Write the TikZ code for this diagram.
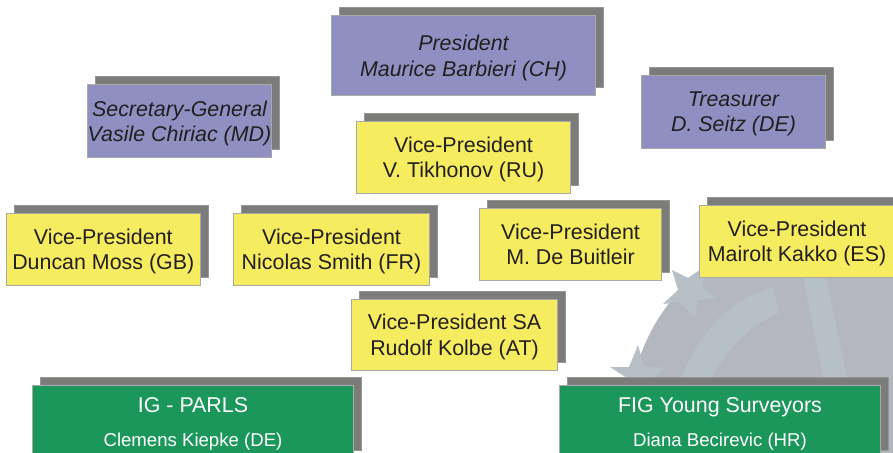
\documentclass[tikz,border=0pt]{standalone}
\usepackage{fontspec}
\setmainfont{Liberation Sans}
\usepackage{xcolor}
\usetikzlibrary{
    positioning,
    shadows
}
\definecolor{figpurple}{HTML}{8F8FC2}
\definecolor{figyellow}{HTML}{F5EC5F}
\definecolor{figgreen}{HTML}{1C975C}
\definecolor{figshadow}{HTML}{7C7C7A}
\definecolor{figborder}{HTML}{A9AAA8}
\definecolor{figink}{HTML}{231F20}
\definecolor{figdisk}{HTML}{B4B7C0}
\definecolor{figlogo}{HTML}{B7C0C7}
\tikzset{
    % Standard box with offset shadow
    orgbox/.style={
        rectangle,
        draw=figborder,
        fill=#1,
        line width=1pt,
        text=figink,
        font=\fontsize{21.4}{25.5}\selectfont,
        align=center,
        inner sep=0pt,
        text depth=-1.5pt,
        general shadow={
            fill=figshadow,
            draw=figshadow!80!white,
            shadow xshift=8pt,
            shadow yshift=8pt
        }
    },
    orgbox/.default=figyellow,
    % Officers
    officerbox/.style={
        orgbox=figpurple,
        font=\fontsize{21.4}{25.5}\selectfont\itshape
    },
    % Vice-presidents
    vicebox/.style={
        orgbox=figyellow,
        minimum height=71.5pt
    },
    % Groups, name line is smaller
    groupbox/.style={
        orgbox=figgreen,
        text=white,
        minimum width=321pt,
        minimum height=73pt,
        font=\fontsize{21.4}{34.5}\selectfont
    }
}
\newcommand{\groupname}[1]{{\fontsize{18.6}{34.5}\selectfont #1}}
\begin{document}
\begin{tikzpicture}[x=1pt,y=-1pt]
    \useasboundingbox (0,0) rectangle (893,452);

    % logo behind the boxes
    \fill[figdisk] (815,417) circle[radius=185];
    \fill[figlogo] (672,270) -- (688,278) -- (707,265) -- (702,288) -- (718,298) -- (698,300)
        -- (695,317) -- (679,302) -- (663,304) -- (678,290) -- cycle;
    \fill[figlogo] (638,345) -- (644,366) -- (665,368) -- (650,380) -- (630,380) -- (610,367)
        -- (629,367) -- cycle;
    \fill[figlogo] (773,287) .. controls (730,300) and (700,330) .. (682,377) -- (712,377)
        .. controls (730,345) and (750,325) .. (779,313) -- cycle;
    \fill[figlogo] (803,277) -- (826,277) -- (847,377) -- (823,377) -- cycle;

    % officers
    \node[officerbox, anchor=north west, minimum width=264pt, minimum height=80pt] (president) at (331,15)
        {President\\Maurice Barbieri (CH)};
    \node[officerbox, anchor=north west, minimum width=184pt, minimum height=73pt] (secretary) at (87,84)
        {Secretary-General\\Vasile Chiriac (MD)};
    \node[officerbox, anchor=north west, minimum width=184pt, minimum height=72.5pt] (treasurer) at (641,75)
        {Treasurer\\D. Seitz (DE)};

    % vice-presidents
    \node[vicebox, below=25pt of president.south west, anchor=north west, xshift=25pt, minimum width=214pt] (tikhonov)
        {Vice-President\\V. Tikhonov (RU)};
    \node[vicebox, anchor=north west, minimum width=193.5pt] (moss) at (6,213)
        {Vice-President\\Duncan Moss (GB)};
    \node[vicebox, right=32.5pt of moss, minimum width=196pt] (smith)
        {Vice-President\\Nicolas Smith (FR)};
    \node[vicebox, anchor=north west, minimum width=182pt] (buitleir) at (479,208)
        {Vice-President\\M. De Buitleir};
    \node[vicebox, anchor=north west, minimum width=195pt] (kakko) at (699,205)
        {Vice-President\\Mairolt Kakko (ES)};
    \node[vicebox, below=13pt of smith.south west, anchor=north west, xshift=118pt, minimum width=206pt] (kolbe)
        {Vice-President SA\\Rudolf Kolbe (AT)};

    % groups
    \node[groupbox, anchor=north west] (parls) at (32,385)
        {IG - PARLS\\\groupname{Clemens Kiepke (DE)}};
    \node[groupbox, anchor=north west] (young) at (559,385)
        {FIG Young Surveyors\\\groupname{Diana Becirevic (HR)}};
\end{tikzpicture}
\end{document}
